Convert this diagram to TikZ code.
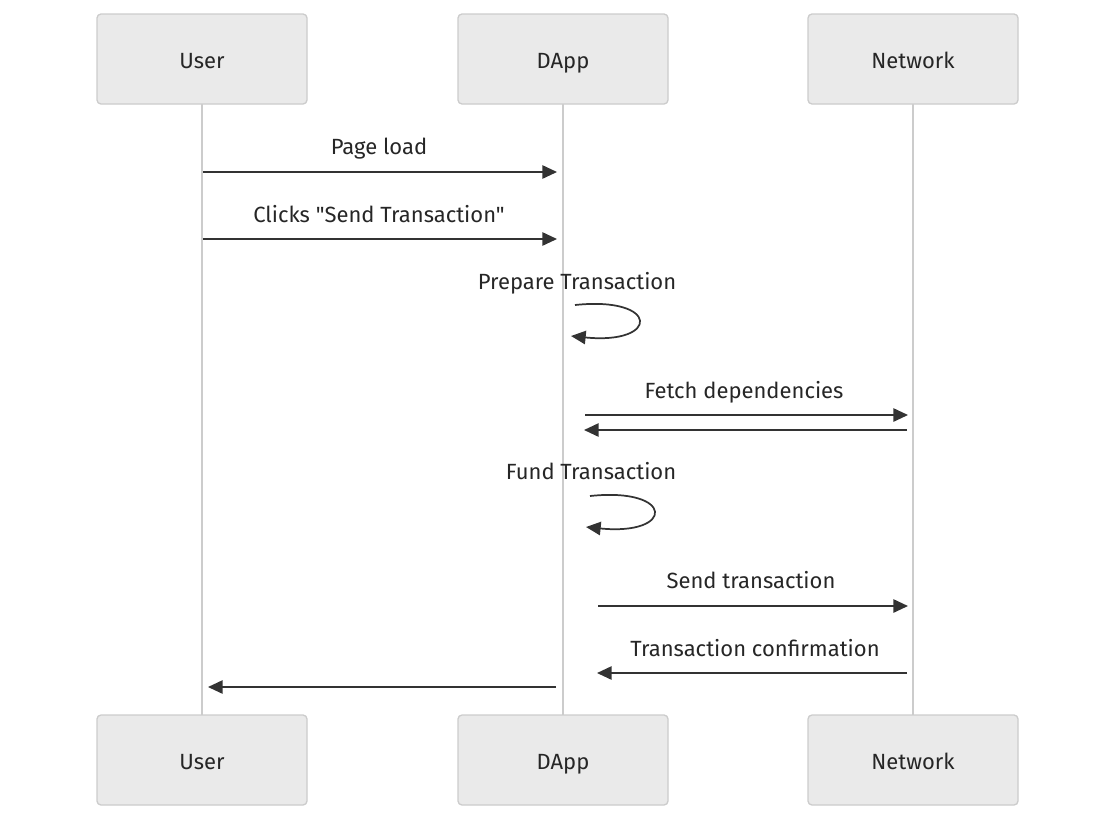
\documentclass[tikz,border=0pt]{standalone}
\usepackage{fontspec}
\setmainfont{Fira Sans}[Ligatures=TeXOff]
\usetikzlibrary{arrows.meta}
\definecolor{boxfill}{HTML}{EAEAEA}
\definecolor{boxline}{HTML}{CCCCCC}
\definecolor{ink}{HTML}{333333}
\definecolor{txt}{HTML}{262626}
\definecolor{life}{HTML}{CCCCCC}
\begin{document}
\begin{tikzpicture}[x=0.75pt,y=-0.75pt,
  actor/.style={draw=boxline,fill=boxfill,line width=1pt,rounded corners=3pt,minimum width=157.5pt,minimum height=67.5pt,inner sep=0pt,font=\fontsize{16.5}{19}\selectfont,text=txt},
  actortxt/.style={inner sep=0pt,text height=0.72em,text depth=0.22em,font=\fontsize{16.5}{19}\selectfont,text=txt},
  lifeline/.style={draw=life,line width=1.5pt},
  msg/.style={draw=ink,line width=1.3pt,-{Triangle[length=11pt,width=10pt]}},
  lbl/.style={font=\fontsize{16.5}{19}\selectfont,text=txt,inner sep=0pt,text height=0.72em,text depth=0.22em}]
\useasboundingbox (0,0) rectangle (1116,822);
% lifelines
\draw[lifeline] (202,104) -- (202,715);
\draw[lifeline] (563,104) -- (563,715);
\draw[lifeline] (913,104) -- (913,715);
% actors
\node[actor] (u1) at (202,59) {};
\node[actor] (d1) at (563,59) {};
\node[actor] (n1) at (913,59) {};
\node[actor] (u2) at (202,760) {};
\node[actor] (d2) at (563,760) {};
\node[actor] (n2) at (913,760) {};
\node[actortxt] (u1t) at (202,65) {User};
\node[actortxt] (d1t) at (563,65) {DApp};
\node[actortxt] (n1t) at (913,65) {Network};
\node[actortxt] (u2t) at (202,766) {User};
\node[actortxt] (d2t) at (563,766) {DApp};
\node[actortxt] (n2t) at (913,766) {Network};
% coordinates
\coordinate (a1s) at (203,172); \coordinate (a1e) at (557,172);
\coordinate (a2s) at (203,239); \coordinate (a2e) at (557,239);
\coordinate (l1s) at (575,305); \coordinate (l1e) at (571,336);
\coordinate (a3s) at (585,415); \coordinate (a3e) at (908,415);
\coordinate (a4s) at (907,430); \coordinate (a4e) at (584,430);
\coordinate (l2s) at (590,496); \coordinate (l2e) at (586,527);
\coordinate (a5s) at (598,606); \coordinate (a5e) at (908,606);
\coordinate (a6s) at (907,673); \coordinate (a6e) at (597,673);
\coordinate (a7s) at (556,687); \coordinate (a7e) at (208,687);
% messages
\draw[msg] (a1s) -- (a1e);
\node[lbl] (t1) at (379,151) {Page load};
\draw[msg] (a2s) -- (a2e);
\node[lbl] (t2) at (379,219) {Clicks "Send Transaction"};
\node[lbl] (t3) at (577,286) {Prepare Transaction};
\draw[msg] (l1s) .. controls (660,296) and (660,345) .. (l1e);
\draw[msg] (a3s) -- (a3e);
\node[lbl] (t4) at (744,395) {Fetch dependencies};
\draw[msg] (a4s) -- (a4e);
\node[lbl] (t5) at (591,476) {Fund Transaction};
\draw[msg] (l2s) .. controls (675,487) and (675,536) .. (l2e);
\draw[msg] (a5s) -- (a5e);
\node[lbl] (t6) at (751,585) {Send transaction};
\draw[msg] (a6s) -- (a6e);
\node[lbl] (t7) at (755,653) {Transaction confirmation};
\draw[msg] (a7s) -- (a7e);
\end{tikzpicture}
\end{document}
